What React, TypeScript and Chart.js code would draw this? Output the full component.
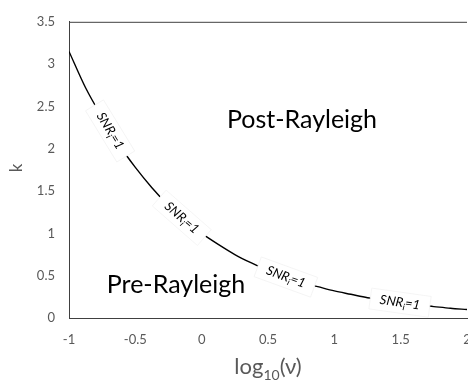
import React, { useEffect, useRef } from "react";
import { Chart, registerables } from "chart.js";

Chart.register(...registerables);

const LOG_NU: number[] = [
  -1, -0.875, -0.75, -0.625, -0.5, -0.375, -0.25, -0.125, 0, 0.125, 0.25, 0.375, 0.5,
  0.625, 0.75, 0.875, 1, 1.125, 1.25, 1.375, 1.5, 1.625, 1.75, 1.875, 2,
];
const K_VALUES: number[] = [
  3.15, 2.72, 2.37, 2.05, 1.78, 1.54, 1.33, 1.15, 1.0, 0.87, 0.75, 0.65, 0.56,
  0.49, 0.42, 0.37, 0.32, 0.28, 0.24, 0.21, 0.18, 0.155, 0.135, 0.115, 0.1,
];
const CURVE_LABEL_X: number[] = [-0.69, -0.15, 0.635, 1.495];
const X_TICKS: number[] = [-1, -0.5, 0, 0.5, 1, 1.5, 2];
const Y_TICKS: number[] = [0, 0.5, 1, 1.5, 2, 2.5, 3, 3.5];
const REGION_LABELS = { upper: "Post-Rayleigh", lower: "Pre-Rayleigh" };

const FONT = "Lato, 'Open Sans', sans-serif";

function interpK(x: number): number {
  for (let i = 0; i < LOG_NU.length - 1; i++) {
    if (x >= LOG_NU[i] && x <= LOG_NU[i + 1]) {
      const t = (x - LOG_NU[i]) / (LOG_NU[i + 1] - LOG_NU[i]);
      return Math.exp(Math.log(K_VALUES[i]) * (1 - t) + Math.log(K_VALUES[i + 1]) * t);
    }
  }
  return K_VALUES[K_VALUES.length - 1];
}

const annotPlugin = {
  id: "annot",
  afterDatasetsDraw(chart: any) {
    const { ctx, chartArea, scales } = chart;
    const xs = scales.x;
    const ys = scales.y;
    ctx.save();
    // top border
    ctx.strokeStyle = "#404040";
    ctx.lineWidth = 1;
    ctx.beginPath();
    ctx.moveTo(chartArea.left, chartArea.top + 0.5);
    ctx.lineTo(chartArea.right, chartArea.top + 0.5);
    ctx.stroke();

    // curve labels
    for (const lx of CURVE_LABEL_X) {
      const ly = interpK(lx);
      const px = xs.getPixelForValue(lx);
      const py = ys.getPixelForValue(ly);
      const ax = xs.getPixelForValue(lx - 0.03);
      const ay = ys.getPixelForValue(interpK(lx - 0.03));
      const bx = xs.getPixelForValue(lx + 0.03);
      const by = ys.getPixelForValue(interpK(lx + 0.03));
      const ang = Math.atan2(by - ay, bx - ax);
      ctx.save();
      ctx.translate(px, py);
      ctx.rotate(ang);
      const w = 60;
      const h = 21;
      ctx.fillStyle = "#ffffff";
      ctx.fillRect(-w / 2, -h / 2, w, h);
      ctx.strokeStyle = "#f3f3f3";
      ctx.lineWidth = 0.8;
      ctx.strokeRect(-w / 2, -h / 2, w, h);
      ctx.fillStyle = "#000000";
      ctx.textBaseline = "alphabetic";
      ctx.textAlign = "left";
      const main = "italic 13px " + FONT;
      const sub = "italic 9px " + FONT;
      ctx.font = main;
      const w1 = ctx.measureText("SNR").width;
      const w3 = ctx.measureText("=1").width;
      ctx.font = sub;
      const w2 = ctx.measureText("i").width;
      const total = w1 + w2 + w3;
      let cx = -total / 2;
      const base = 4;
      ctx.font = main;
      ctx.fillText("SNR", cx, base);
      cx += w1;
      ctx.font = sub;
      ctx.fillText("i", cx, base + 3);
      cx += w2;
      ctx.font = main;
      ctx.fillText("=1", cx, base);
      ctx.restore();
    }

    // region labels
    ctx.fillStyle = "#000000";
    ctx.textAlign = "center";
    ctx.textBaseline = "alphabetic";
    ctx.font = "25px " + FONT;
    ctx.fillText(REGION_LABELS.upper, 302, 128);
    ctx.fillText(REGION_LABELS.lower, 176, 293);

    // axis titles
    ctx.fillStyle = "#595959";
    ctx.font = "22px " + FONT;
    const t1 = "log";
    const t2 = "10";
    const t3 = "(\u03BD)";
    const m1 = ctx.measureText(t1).width;
    const m3 = ctx.measureText(t3).width;
    ctx.font = "14px " + FONT;
    const m2 = ctx.measureText(t2).width;
    const tot = m1 + m2 + m3;
    let sx = 268 - tot / 2;
    ctx.textAlign = "left";
    ctx.font = "22px " + FONT;
    ctx.fillText(t1, sx, 374);
    sx += m1;
    ctx.font = "14px " + FONT;
    ctx.fillText(t2, sx, 380);
    sx += m2;
    ctx.font = "22px " + FONT;
    ctx.fillText(t3, sx, 374);

    ctx.save();
    ctx.translate(22, 168);
    ctx.rotate(-Math.PI / 2);
    ctx.textAlign = "center";
    ctx.font = "17px " + FONT;
    ctx.fillText("k", 0, 0);
    ctx.restore();

    ctx.restore();
  },
};

export default function App() {
  const ref = useRef<HTMLCanvasElement | null>(null);
  useEffect(() => {
    document.body.style.margin = "0";
    const canvas = ref.current;
    if (!canvas) return;
    const chart = new Chart(canvas, {
      type: "line",
      data: {
        datasets: [
          {
            data: LOG_NU.map((x, i) => ({ x, y: K_VALUES[i] })),
            borderColor: "#000000",
            borderWidth: 1.4,
            pointRadius: 0,
            tension: 0.4,
            cubicInterpolationMode: "monotone",
            fill: false,
          },
        ],
      },
      options: {
        responsive: false,
        animation: false,
        devicePixelRatio: 1,
        layout: { padding: { top: 18, right: 1, left: 0, bottom: 0 } },
        plugins: { legend: { display: false }, tooltip: { enabled: false } },
        scales: {
          x: {
            type: "linear",
            min: -1,
            max: 2,
            afterBuildTicks: (s: any) => {
              s.ticks = X_TICKS.map((v) => ({ value: v }));
            },
            afterFit: (s: any) => {
              s.height = 65;
              s.paddingLeft = 0;
              s.paddingRight = 0;
            },
            grid: { display: false, drawTicks: false },
            border: { display: true, color: "#404040", width: 1 },
            ticks: {
              padding: 14,
              color: "#595959",
              font: { family: FONT, size: 13 },
              maxRotation: 0,
              autoSkip: false,
              callback: (v: any) => String(v),
            },
          },
          y: {
            type: "linear",
            min: 0,
            max: 3.5,
            afterBuildTicks: (s: any) => {
              s.ticks = Y_TICKS.map((v) => ({ value: v }));
            },
            afterFit: (s: any) => {
              s.width = 69;
            },
            grid: { display: false, drawTicks: false },
            border: { display: true, color: "#404040", width: 1 },
            ticks: {
              padding: 14,
              color: "#595959",
              font: { family: FONT, size: 13 },
              autoSkip: false,
              callback: (v: any) => String(v),
            },
          },
        },
      },
      plugins: [annotPlugin],
    } as any);
    return () => chart.destroy();
  }, []);
  return <canvas ref={ref} width={468} height={383} style={{ display: "block" }} />;
}
